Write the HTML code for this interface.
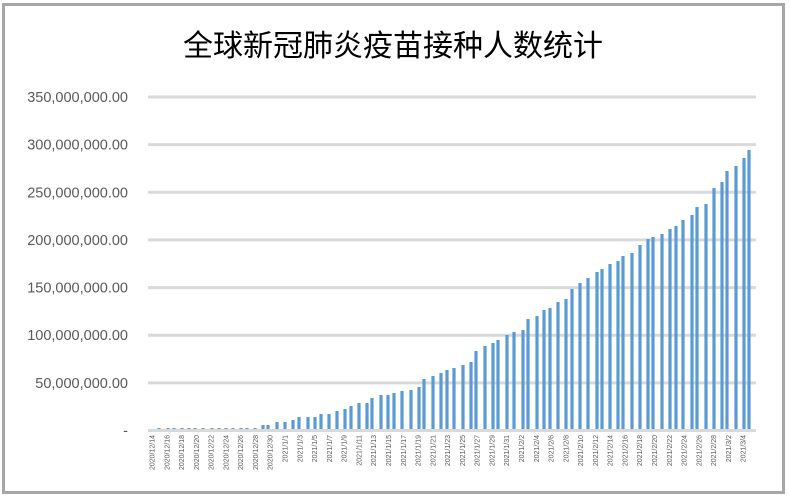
<!DOCTYPE html>
<html><head><meta charset="utf-8"><style>
html,body{margin:0;padding:0;background:#fff;width:789px;height:499px;overflow:hidden}
</style></head><body>
<svg width="789" height="499" xmlns="http://www.w3.org/2000/svg">
<rect x="0" y="0" width="789" height="499" fill="#fff"/>
<rect x="3.5" y="4.5" width="780" height="488" fill="none" stroke="#a6a6a6" stroke-width="3"/>
<text x="393" y="56" text-anchor="middle" font-family="'Noto Sans CJK SC',sans-serif" font-size="30" fill="#000" textLength="420" lengthAdjust="spacingAndGlyphs">全球新冠肺炎疫苗接种人数统计</text>
<g stroke="#d9d9d9" stroke-width="3">
<line x1="148" x2="756" y1="97" y2="97"/>
<line x1="148" x2="756" y1="144.6" y2="144.6"/>
<line x1="148" x2="756" y1="192.3" y2="192.3"/>
<line x1="148" x2="756" y1="239.9" y2="239.9"/>
<line x1="148" x2="756" y1="287.6" y2="287.6"/>
<line x1="148" x2="756" y1="335.2" y2="335.2"/>
<line x1="148" x2="756" y1="382.9" y2="382.9"/>
<line x1="148" x2="756" y1="430.5" y2="430.5"/>
</g>
<g font-family="'Liberation Sans',sans-serif" font-size="14.5" fill="#595959" text-anchor="end">
<text x="128" y="102">350,000,000.00</text>
<text x="128" y="149.6">300,000,000.00</text>
<text x="128" y="197.3">250,000,000.00</text>
<text x="128" y="244.9">200,000,000.00</text>
<text x="128" y="292.6">150,000,000.00</text>
<text x="128" y="340.2">100,000,000.00</text>
<text x="128" y="387.9">50,000,000.00</text>
<text x="128" y="435.5">-</text>
</g>
<g id="bars" fill="#5b9bd5"></g>
<g id="lbl" font-family="'Liberation Sans',sans-serif" font-size="7" fill="#595959"></g>
</svg>
<script>
var d=[[159,428],[168,428],[174,428],[182,428],[189,428],[195,428],[203,428],[212,428],[219,428],[226,428],[233,428],[241,428],[247,428],[255,428],
[263,425],[268,425],[277,422],[285,422],[293,420],[299,417],[308,417],[315,417],[321,414],[329,414],[337,411],[345,409],[351,406],[359,403],[367,403],[372,398],[381,395],[388,395],[394,393],[402,391],[411,390],[419,387],[424,379],[433,376],[441,373],[447,370],[454,368],[463,365],[471,362],[476,351],[485,346],[493,343],[498,340],[507,335],[514,332],[523,330],[528,319],[537,316],[544,310],[550,308],[558,302],[566,299],[572,289],[580,283],[588,278],[597,272],[602,269],[610,264],[618,261],[623,256],[632,253],[640,245],[648,239],[653,237],[662,234],[670,229],[676,226],[683,220],[692,215],[697,207],[706,204],[714,188],[722,182],[727,171],[736,166],[744,158],[749,150]];
var ns="http://www.w3.org/2000/svg",g=document.getElementById('bars');
d.forEach(function(b){var r=document.createElementNS(ns,'rect');r.setAttribute('x',b[0]-1.6);r.setAttribute('y',b[1]);r.setAttribute('width',3.2);r.setAttribute('height',429-b[1]);g.appendChild(r);});
var L=[];for(var i=14;i<=30;i+=2)L.push('2020/12/'+i);for(i=1;i<=31;i+=2)L.push('2021/1/'+i);for(i=2;i<=28;i+=2)L.push('2021/2/'+i);L.push('2021/3/2');L.push('2021/3/4');
var lg=document.getElementById('lbl');
L.forEach(function(t,k){var x=152+k*14.78;var e=document.createElementNS(ns,'text');e.setAttribute('transform','translate('+(x+2.5)+',435) rotate(-90)');e.setAttribute('text-anchor','end');e.textContent=t;lg.appendChild(e);});
</script>
</body></html>
